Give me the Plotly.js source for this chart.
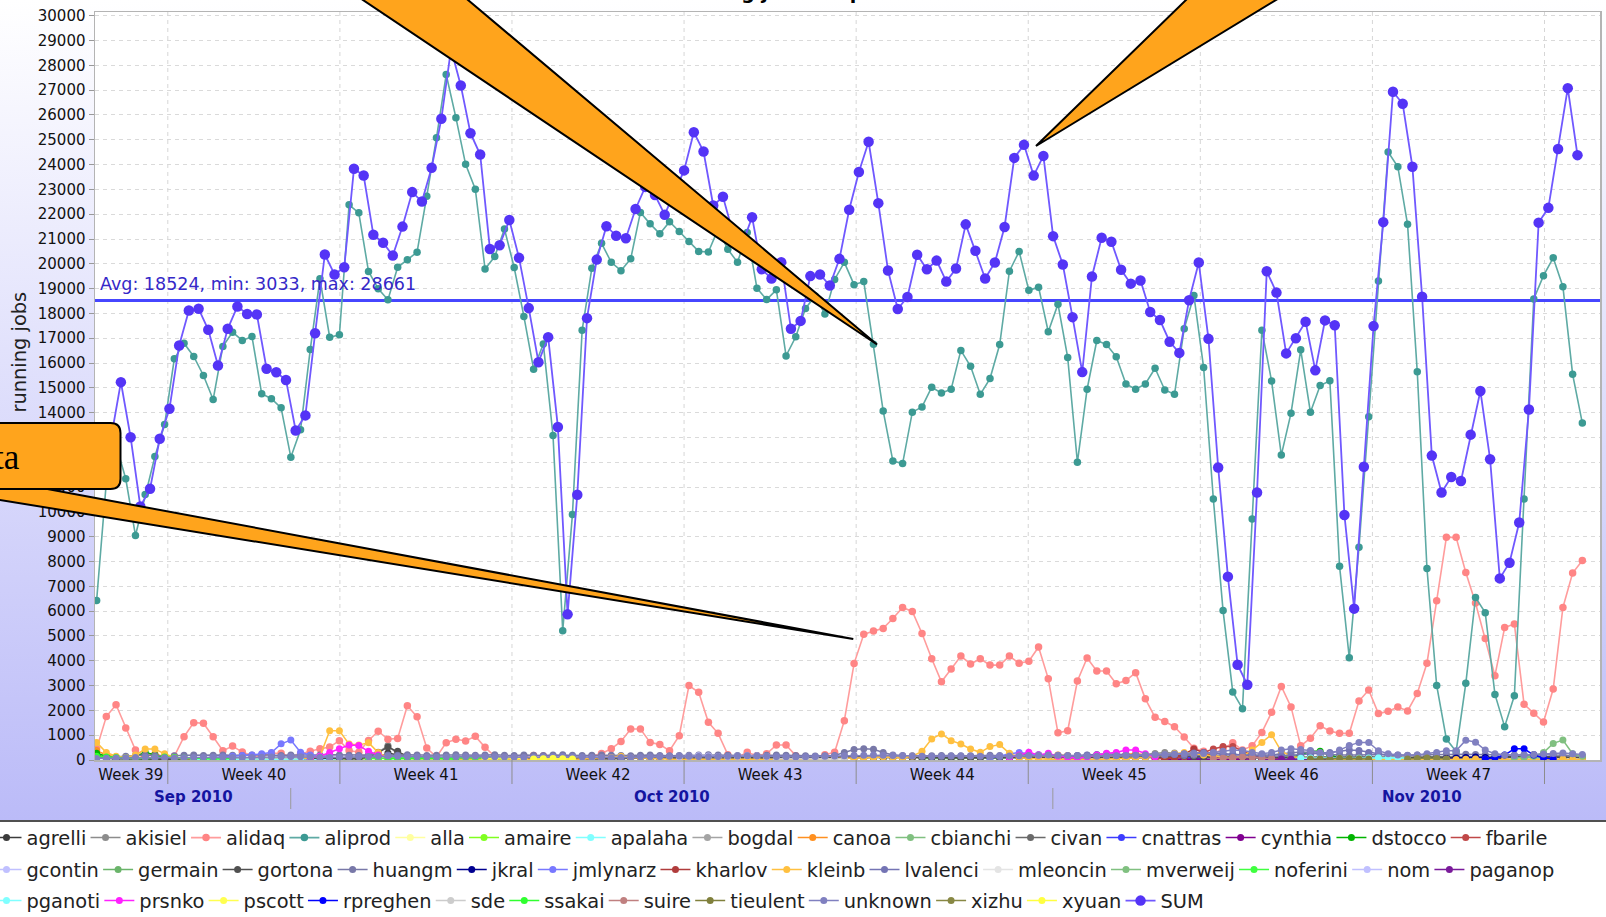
<!DOCTYPE html>
<html><head><meta charset="utf-8">
<script src="https://cdn.plot.ly/plotly-3.0.1.min.js"></script>
<style>
html,body{margin:0;padding:0;background:#fff;}
#wrap{position:relative;width:1606px;height:917px;overflow:hidden;
 background:linear-gradient(to bottom,#ffffff 0px,#bbbbf8 820px,#505050 820px,#505050 822px,#ffffff 822px);}
#chart{width:1606px;height:917px;}
</style></head><body><div id="wrap"><div id="chart"></div></div>
<script>
// ---------------- DATA ----------------
// sample grid: user series every 9.48 h starting 2010-09-23 02:30 UTC, SUM half a step later
const sampleStart = Date.UTC(2010, 8, 23, 2, 30);
const sampleStepHours = 9.48;

const SUM = [
12000,13000,15230,13010,10220,10930,12950,14155,16710,18120,
18190,17340,15900,17380,18280,17980,17960,15770,15630,15320,
13280,13890,17200,20375,19570,19860,23830,23560,21170,20850,
20335,21500,22890,22510,23870,25845,28661,27190,25265,24405,
20600,20750,21765,20240,18215,16035,17045,13425,5870,10690,
17810,20170,21515,21130,21030,22210,23100,22770,21980,22900,
23765,25305,24525,22350,22700,21300,20800,21880,19780,19405,
20060,17380,17700,19505,19570,19125,20200,22180,23700,24920,
22445,19730,18180,18660,20365,19780,20130,19285,19810,21590,
20525,19410,20050,21485,24270,24795,23555,24350,21115,19970,
17850,15635,19490,21050,20890,19760,19200,19330,18060,17735,
16860,16410,18530,20050,16975,11790,7390,3840,3033,10780,
19700,18840,16390,17000,17665,15705,17720,17525,9875,6100,
11820,17490,21680,26935,26450,23915,18675,12270,10780,11405,
11245,13115,14875,12125,7320,7950,9570,14125,21660,22255,
24630,27080,24380];

const aliprod = [
6430,11200,12700,11335,9050,10700,12230,13520,16170,16800,
16265,15500,14530,16670,17245,16910,17070,14760,14560,14195,
12205,13310,16545,19395,17040,17140,22380,22055,19690,18990,
18550,19860,20160,20470,22725,25080,27630,25890,24010,23010,
19790,20295,21405,19850,17880,15755,16770,13080,5210,9900,
17325,19825,20825,20060,19725,20200,22070,21610,21210,21700,
21300,20900,20500,20475,21400,20585,20060,21265,19015,18560,
18950,16285,17060,18200,18700,17975,19370,20060,19160,19285,
16760,14070,12050,11950,14020,14230,15025,14790,14945,16510,
15870,14740,15375,16745,19700,20495,18930,19060,17260,18375,
16225,12000,14945,16910,16745,16255,15155,14945,15155,15790,
14915,14740,17385,18725,15820,10520,6022,2745,2070,9710,
17325,15275,12290,13980,16535,14015,15095,15290,7805,4120,
8580,13835,19305,24505,23915,21590,15650,7720,3005,845,
340,3090,6550,5940,2645,1345,2590,10525,18585,19520,
20240,19075,15545,13580];

const alidaq = [
450,1750,2230,1290,400,120,80,60,150,940,
1505,1480,940,375,560,320,170,140,275,275,
120,250,350,450,520,780,380,315,785,1160,
835,870,2190,1740,480,120,700,835,770,960,
510,150,120,100,140,180,160,100,80,60,
100,150,260,450,750,1250,1250,710,620,375,
980,3000,2730,1520,1075,215,110,310,175,250,
605,605,175,80,80,215,310,1585,3885,5065,
5195,5305,5705,6150,5990,5100,4080,3150,3665,4190,
3870,4080,3825,3825,4190,3900,3980,4555,3280,1095,
1180,3185,4110,3585,3585,3075,3200,3520,2465,1720,
1550,1340,930,475,350,250,450,700,400,570,
1110,1920,2965,2140,570,880,1380,1170,1075,1075,
2375,2820,1870,1960,2140,1980,2680,3900,6420,8975,
8975,7555,6330,4895,3400,5340,5485,2245,1885,1530,
2860,6150,7535,8040];

const agrelli = [
200,90,60,50,40,45,30,35,40,30, 30,40,35,30,45,30,35,40,30,35,
40,30,50,60,80,60,50,40,60,90, 280,200,120,90,70,60,50,65,60,50,
40,55,40,60,50,45,60,50,40,55, 60,70,60,50,65,70,80,60,75,80,
90,80,70,95,80,70,90,85,90,100, 90,105,110,90,100,115,100,90,80,95,
100,90,105,110,100,90,100,115,100,90, 100,110,105,90,100,110,120,100,115,100,
90,100,110,120,110,100,95,100,110,105, 120,110,100,90,100,110,125,100,90,100,
110,120,105,90,100,110,100,120,110,100, 100,110,120,105,90,110,100,90,100,115,
120,100,90,100,110,105,90,100,110,100, 90,100,110,100];

const gortona = [
120,60,50,40,50,60,50,40,30,40, 40,30,45,30,40,35,40,30,45,30,
30,40,60,80,90,70,60,50,120,300, 520,350,150,100,80,70,60,65,50,60,
70,60,50,65,70,80,60,70,60,50, 60,55,60,70,90,110,120,90,80,70,
80,90,120,130,100,90,80,95,100,110, 120,110,100,90,100,120,130,140,150,120,
110,100,90,80,95,100,90,80,90,100, 90,80,95,100,90,100,110,100,90,80,
100,110,100,90,80,95,100,110,120,130, 140,150,160,140,120,100,110,120,100,90,
100,110,120,100,90,80,90,100,110,120, 130,120,110,100,90,100,115,120,130,120,
110,100,90,100,120,130,140,150,160,140, 130,120,110,100];

const huangm = [
80,100,120,150,180,200,180,160,170,190, 200,180,190,205,190,180,200,210,190,180,
200,190,180,200,210,200,190,180,200,215, 200,190,210,200,180,190,200,210,200,190,
200,210,190,180,205,190,180,200,210,190, 180,190,200,190,180,170,190,200,180,170,
180,190,200,210,200,190,180,170,180,190, 200,190,180,170,160,170,180,300,420,450,
430,300,200,180,170,160,175,180,170,160, 170,180,190,180,170,200,220,210,190,180,
170,180,190,200,210,220,200,190,180,170, 160,170,180,190,200,210,220,230,210,200,
190,200,250,300,320,300,250,220,200,190, 200,210,220,210,200,190,200,210,220,230,
240,230,220,210,200,190,200,210,220,210, 200,190,180,170];

const unknown = [
60,70,80,90,100,110,100,90,80,90, 100,110,120,110,100,90,100,110,120,130,
140,130,120,110,100,110,120,130,140,150, 160,150,140,130,120,110,120,130,140,150,
140,130,120,110,100,110,120,130,140,130, 120,110,100,90,100,110,120,130,140,150,
160,150,140,130,140,150,160,170,160,150, 140,130,120,130,140,150,160,170,180,190,
200,190,180,170,160,150,140,150,160,170, 160,150,140,150,160,170,180,190,200,190,
180,170,160,150,160,170,180,190,200,210, 220,230,240,250,260,300,350,400,380,300,
250,300,400,450,420,380,300,250,400,580, 710,710,375,250,200,180,200,250,300,375,
375,800,720,400,250,200,180,200,220,240, 260,280,250,220];

const kleinb = [
710,300,150,100,200,440,440,250,100,60, 40,30,30,20,30,40,30,20,30,40,
50,60,80,150,1180,1180,640,600,700,300, 100,60,40,30,20,30,20,30,40,30,
20,30,20,30,20,30,40,30,20,30, 40,60,80,100,150,100,80,60,40,30,
20,30,40,30,20,30,40,30,20,30, 20,30,20,30,20,30,40,50,60,80,
100,120,100,80,150,350,850,1050,780,645, 445,310,540,620,270,100,60,40,30,20,
30,40,30,20,30,40,60,80,100,150, 200,250,300,250,200,150,100,80,150,400,
710,1020,350,150,80,60,40,30,20,30, 40,30,20,30,40,30,20,30,40,30,
20,30,40,30,20,30,40,30,20,30, 40,30,20,30];

// minor users: list of [first sample index, values]
const akisiel = [[20,[60,80,100,90,80,70,90,120,200,310,580,250,120,90,80,70,60,80,90,100,110,90,80,70,60]],[104,[90,120,150,180,200,260,300,280,240,200,160,120,100]]];
const alla = [[60,[40,50,60,50,40,30,40,50,60,50]]];
const amaire = [[24,[40,60,80,70,60,50,60,70,80,90,80,70,60,50,60,70,60,50,40,50]]];
const apalaha = [[8,[40,50,40,30,40,50,40,30,40,50,40,30,40,50,40,30,40,50]],[118,[60,70,80,70,60,50,60,70,80,90,80,70,60]]];
const bogdal = [[100,[80,100,120,110,90,80,100,120,130,110]]];
const canoa = [[0,[380,200,120,80,60,150,250,120,80,60]],[96,[80,120,160,200,180,150,120,100,140,180,220,260,200,160,130,110,150,190,170,140,120,100,90,110,130]]];
const cbianchi = [[130,[60,80,100,90,70,60,80,100,120,100,80,60,70,90,110,130,150,120,100,80]]];
const civan = [[40,[50,60,70,60,50,40,50,60,70,80,70,60,50,60,70,80,90,80,70,60,50,60,70,80,90,100,90,80,70,60]],[110,[80,90,100,110,120,110,100,90,80,70,80,90,100,110,120,130,120,110,100,90]]];
const cnattras = [[100,[60,80,100,120,100,80,60,80,100,120,140,120,100,80,60]]];
const cynthia = [[110,[30,40,50,40,30,40,50,40,30,40]]];
const dstocco = [[0,[270,150,100,80,120,310,200,100,60,40]],[120,[40,60,80,120,200,350,350,200,100,60]]];
const fbarile = [[109,[40,60,80,120,200,300,445,540,540,375,200,100,60,40]]];
const gcontin = [[50,[120,140,160,150,130,120,140,160,150,130]]];
const germain = [[85,[60,80,70,60,80,100,90,70,60,80,100,90]]];
const jkral = [[138,[40,60,80,100,120,100,80,60]]];
const jmlynarz = [[12,[100,120,150,180,200,250,300,650,805,310,200,150,120]],[92,[100,150,250,300,250,200,150]]];
const kharlov = [[110,[60,100,250,445,300,150,80]]];
const lvalenci = [[100,[150,180,200,220,250,230,210,200,190,180,200,220,250,280,300,280,250,220,200,180,160,150,170,190,210,230,250,300,350,400,380,300,250,200,180]]];
const mleoncin = [[30,[60,70,80,70,60,50,60,70]]];
const mverweij = [[146,[80,100,150,300,670,805,250,150]]];
const noferini = [[28,[60,80,100,90,80,70,80,90,100,110,100,90,80,70,60]]];
const nom = [[60,[130,150,170,160,140,130,150,170,160,140]]];
const paganop = [[120,[20,30,40,30,20,30,40,30]]];
const pganoti = [[10,[30,40,50,40,30,40,50,40,30,40,50,40]],[124,[70,80,90,80,70,60,70,80,90,100,90,80]]];
const prsnko = [[22,[80,150,300,450,600,580,350,200,100]],[94,[100,200,310,200,270,150,100,80,120,200,270,300,400,400,250,120]]];
const pscott = [[40,[50,70,90,70,50]]];
const rpreghen = [[143,[40,80,200,450,450,200,80,40]]];
const sde = [[70,[50,60,70,60,50,40,50,60]]];
const ssakai = [[0,[150,120,100,80,60,80,100,120,100,80,60,50,40,50,60]],[30,[50,60,70,80,70,60,50,40]]];
const suire = [[115,[60,80,100,120,100,80,60]]];
const tieulent = [[125,[40,50,60,70,60,50,40]]];
const xizhu = [[135,[40,60,80,60,40]]];
const xyuan = [[45,[40,50,60,50,40]]];

const userNames = ['agrelli','akisiel','alidaq','aliprod','alla','amaire','apalaha','bogdal','canoa','cbianchi','civan','cnattras','cynthia','dstocco','fbarile','gcontin','germain','gortona','huangm','jkral','jmlynarz','kharlov','kleinb','lvalenci','mleoncin','mverweij','noferini','nom','paganop','pganoti','prsnko','pscott','rpreghen','sde','ssakai','suire','tieulent','unknown','xizhu','xyuan'];
const userValues = {agrelli,akisiel,alidaq,aliprod,alla,amaire,apalaha,bogdal,canoa,cbianchi,civan,cnattras,cynthia,dstocco,fbarile,gcontin,germain,gortona,huangm,jkral,jmlynarz,kharlov,kleinb,lvalenci,mleoncin,mverweij,noferini,nom,paganop,pganoti,prsnko,pscott,rpreghen,sde,ssakai,suire,tieulent,unknown,xizhu,xyuan};

const avgValue = 18524, minValue = 3033, maxValue = 28661;
const weekLabels = ['Week 39','Week 40','Week 41','Week 42','Week 43','Week 44','Week 45','Week 46','Week 47'];
const monthLabels = ['Sep 2010','Oct 2010','Nov 2010'];

// ---------------- STYLE ----------------
const userColors = {agrelli:'#3c3c3c',akisiel:'#8c8c8c',alidaq:'#ff8585',aliprod:'#3c9a93',alla:'#ffffa0',amaire:'#80ff20',apalaha:'#80ffff',bogdal:'#a4a4a4',canoa:'#ff9020',cbianchi:'#80c080',civan:'#6a6a6a',cnattras:'#3c3cff',cynthia:'#800090',dstocco:'#00b400',fbarile:'#c04848',gcontin:'#c0c0ff',germain:'#6ab46a',gortona:'#505050',huangm:'#7878a8',jkral:'#000090',jmlynarz:'#7878ff',kharlov:'#b03c3c',kleinb:'#ffc040',lvalenci:'#7474b4',mleoncin:'#e4e4e4',mverweij:'#80c080',noferini:'#40ff40',nom:'#c0c0ff',paganop:'#7a1a9a',pganoti:'#80ffff',prsnko:'#ff20ff',pscott:'#ffff50',rpreghen:'#0000ff',sde:'#cccccc',ssakai:'#30ff30',suire:'#c08080',tieulent:'#80803c',unknown:'#8080c0',xizhu:'#888844',xyuan:'#ffff40'};
const lineColors = {aliprod:'#5eaaa4', alidaq:'#ff9c9c'};

const H = 3600*1000;
const tUser = aliprod.map((_, j) => sampleStart + j*sampleStepHours*H);
const tSum = SUM.map((_, i) => sampleStart + (i+0.5)*sampleStepHours*H);
const D = (y,m,d,h=0,mi=0) => Date.UTC(y,m-1,d,h,mi);

function seriesXY(v){
  if (typeof v[0] === 'number') return {x: tUser.slice(0, v.length), y: v};
  const x=[], y=[];
  v.forEach((seg,k)=>{ if(k){x.push(null);y.push(null);} seg[1].forEach((val,n)=>{x.push(tUser[seg[0]+n]); y.push(val);}); });
  return {x,y};
}

// legend positions (one legend per entry so rows match the reference)
const allNames = userNames.concat(['SUM']);
const rows = [[0,15],[15,29],[29,41]];
const rowY = [838, 870, 901];
const ctx = document.createElement('canvas').getContext('2d');
const LFS = 19.4;
ctx.font = LFS + 'px "DejaVu Sans"';
const legendKey = k => k === 0 ? 'legend' : 'legend' + (k+1);
const PX = x => (x - 95) / 1505;
const PY = y => (760 - y) / 748;

const layout = {
  width:1606, height:917,
  margin:{l:95, r:6, t:12, b:157, autoexpand:false},
  paper_bgcolor:'rgba(0,0,0,0)', plot_bgcolor:'#ffffff',
  font:{family:'DejaVu Sans', size:15, color:'#111'},
  showlegend:true,
  xaxis:{type:'date', range:[D(2010,9,23,0,55), D(2010,11,23,6,11)],
    tickmode:'array',
    tickvals:[D(2010,9,24,11,53), D(2010,9,29,12), D(2010,10,6,12), D(2010,10,13,12), D(2010,10,20,12), D(2010,10,27,12), D(2010,11,3,12), D(2010,11,10,12), D(2010,11,17,12)],
    ticktext:weekLabels, ticks:'', showgrid:false, zeroline:false,
    showline:true, mirror:true, linecolor:'#b4b4b4', linewidth:1.5,
    tickfont:{family:'DejaVu Sans', size:15, color:'#111'}, fixedrange:true},
  yaxis:{range:[0,30150], tickmode:'linear', tick0:0, dtick:1000, tickformat:'d', ticks:'outside', ticklen:5, tickcolor:'#999',
    showgrid:true, gridcolor:'#dadada', gridwidth:1, griddash:'4px,4px', zeroline:false,
    showline:true, mirror:true, linecolor:'#b4b4b4', linewidth:1.5,
    tickfont:{family:'DejaVu Sans', size:15, color:'#111'}, fixedrange:true},
  shapes:[], annotations:[]
};

rows.forEach((r, ri) => {
  let textStart = 26.5;
  for (let k = r[0]; k < r[1]; k++) {
    const left = textStart - 40;
    layout[legendKey(k)] = {x:PX(left), xanchor:'left', y:PY(rowY[ri]), yanchor:'middle', orientation:'h',
      bgcolor:'rgba(0,0,0,0)', borderwidth:0, font:{family:'DejaVu Sans', size:LFS, color:'#222'}};
    textStart += ctx.measureText(allNames[k]).width + 39.2;
  }
});

// traces
const data = [];
userNames.forEach((nm, k) => {
  const xy = seriesXY(userValues[nm]);
  const big = (nm === 'aliprod' || nm === 'alidaq');
  data.push({type:'scatter', mode:'lines+markers', name:nm, x:xy.x, y:xy.y, legend:legendKey(k),
    line:{color:lineColors[nm] || userColors[nm], width:big ? 1.6 : 1.5},
    marker:{color:userColors[nm], size:big ? 7.5 : 7}, hoverinfo:'skip'});
});
data.push({type:'scatter', mode:'lines+markers', name:'SUM', x:tSum, y:SUM, legend:legendKey(40),
  line:{color:'#7058ff', width:1.8}, marker:{color:'#5434f6', size:10.5}, hoverinfo:'skip'});

// week grid + separators
const weekStarts = [D(2010,9,26),D(2010,10,3),D(2010,10,10),D(2010,10,17),D(2010,10,24),D(2010,10,31),D(2010,11,7),D(2010,11,14),D(2010,11,21)];
weekStarts.forEach(w => {
  layout.shapes.push({type:'line', xref:'x', yref:'paper', x0:w, x1:w, y0:0, y1:1, layer:'below', line:{color:'#d6d6d6', width:1, dash:'4px,4px'}});
  layout.shapes.push({type:'line', xref:'x', yref:'paper', x0:w, x1:w, y0:0, y1:-24/748, layer:'above', line:{color:'#8c8c8c', width:1}});
});
[D(2010,10,1), D(2010,11,1)].forEach(m => {
  layout.shapes.push({type:'line', xref:'x', yref:'paper', x0:m, x1:m, y0:-28/748, y1:-49/748, layer:'above', line:{color:'#9a9a9a', width:1}});
});
layout.shapes.push({type:'line', xref:'paper', yref:'y', x0:0, x1:1, y0:avgValue, y1:avgValue, layer:'between', line:{color:'#4646ff', width:3}});

// callouts
const P = (x, y) => PX(x).toFixed(5) + ',' + PY(y).toFixed(5);
const poly = pts => 'M' + pts.map(p => P(p[0], p[1])).join(' L') + ' Z';
function roundRect(x0, y0, x1, y1, r){
  return 'M' + P(x0,y0) + ' L' + P(x1-r,y0) + ' Q' + P(x1,y0) + ' ' + P(x1,y0+r) +
    ' L' + P(x1,y1-r) + ' Q' + P(x1,y1) + ' ' + P(x1-r,y1) + ' L' + P(x0,y1) + ' Z';
}
const callout = {fillcolor:'#ffa41c', line:{color:'#000', width:2}, layer:'above', xref:'paper', yref:'paper', type:'path'};
layout.shapes.push(Object.assign({path:poly([[30,485.8],[853.3,639],[-60,490.2]])}, callout));
layout.shapes.push(Object.assign({path:roundRect(-300,423,120.5,489,10)}, callout));
layout.shapes.push(Object.assign({path:poly([[318.2,-30],[877,344.5],[432.4,-30]])}, callout));
layout.shapes.push(Object.assign({path:poly([[1216.8,-30],[1036,146],[1325.3,-30]])}, callout));

// texts
layout.annotations.push({text:'Running jobs for period', xref:'paper', yref:'paper', x:PX(664), xanchor:'left', y:PY(5.5), yanchor:'bottom', showarrow:false, font:{family:'DejaVu Sans', size:19, color:'#000', weight:'bold'}});
layout.annotations.push({text:'running jobs', textangle:-90, xref:'paper', yref:'paper', x:PX(19), xanchor:'center', y:PY(290), yanchor:'top', showarrow:false, font:{family:'DejaVu Sans', size:19.4, color:'#222'}});
layout.annotations.push({text:'Avg: ' + avgValue + ', min: ' + minValue + ', max: ' + maxValue, xref:'paper', yref:'paper', x:PX(98), xanchor:'left', y:PY(284), yanchor:'middle', showarrow:false, font:{family:'DejaVu Sans', size:17.5, color:'#3528c8'}});
const monthPos = [D(2010,9,27,1), D(2010,10,16,12), D(2010,11,16)];
monthLabels.forEach((m, k) => layout.annotations.push({text:m, xref:'x', yref:'paper', x:monthPos[k], xanchor:'center', y:PY(797), yanchor:'middle', showarrow:false, font:{family:'DejaVu Sans', size:15, color:'#1414a0', weight:'bold'}}));
layout.annotations.push({text:'data', xref:'paper', yref:'paper', x:PX(22), xanchor:'right', y:PY(457), yanchor:'middle', showarrow:false, font:{family:'Liberation Serif', size:35, color:'#000'}});

Plotly.newPlot('chart', data, layout, {displayModeBar:false, staticPlot:true});
</script></body></html>
